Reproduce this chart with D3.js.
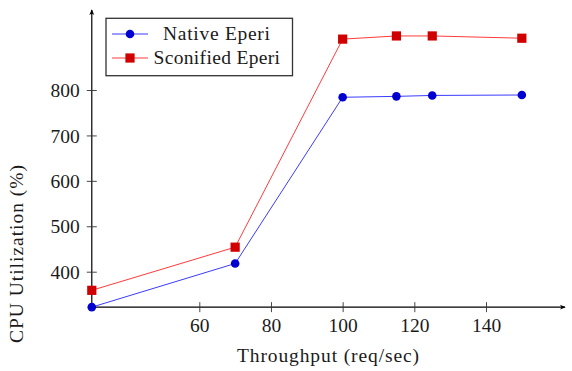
<!DOCTYPE html>
<html><head><meta charset="utf-8">
<script src="https://cdn.jsdelivr.net/npm/d3@7"></script>
<style>
html,body{margin:0;padding:0;background:#fff;}
svg text{font-family:"Liberation Serif","Times New Roman",serif;fill:#1a1a1a;}
</style></head>
<body><svg id="c" width="572" height="371"></svg>
<script>
const throughput = [30, 70, 100, 115, 125, 150];
const nativeEperi = [322, 418, 784, 786, 788, 789];
const sconifiedEperi = [359, 454, 912, 919, 919, 914];
const xTicks = [60, 80, 100, 120, 140];
const yTicks = [400, 500, 600, 700, 800];
const seriesNames = ["Native Eperi", "Sconified Eperi"];

const svg = d3.select("#c");
const x = d3.scaleLinear().domain([60, 140]).range([199.3, 486]);
const y = d3.scaleLinear().domain([400, 800]).range([271.7, 90]);
const x0 = x(30), y0 = y(322);
const fs = 19.5;

// arrow marker
svg.append("defs").append("marker").attr("id","arr").attr("viewBox","0 0 10 10")
  .attr("refX",8).attr("refY",5).attr("markerWidth",7).attr("markerHeight",7)
  .attr("markerUnits","userSpaceOnUse").attr("orient","auto")
  .append("path").attr("d","M1,1.5 L9,5 L1,8.5 L3,5 Z").attr("fill","#000");

// axes lines
svg.append("line").attr("x1",x0).attr("x2",565).attr("y1",y0).attr("y2",y0)
  .attr("stroke","#000").attr("stroke-width",1.2).attr("marker-end","url(#arr)");
svg.append("line").attr("x1",x0).attr("x2",x0).attr("y1",y0).attr("y2",10)
  .attr("stroke","#000").attr("stroke-width",1.2).attr("marker-end","url(#arr)");

// x axis ticks
const xa = svg.append("g").attr("transform",`translate(0,${y0})`)
  .call(d3.axisBottom(x).tickValues(xTicks).tickSize(5).tickSizeOuter(0).tickPadding(0));
xa.select(".domain").remove();
xa.selectAll(".tick line").attr("y1",-5).attr("y2",5).attr("stroke","#333").attr("stroke-width",0.9);
xa.selectAll(".tick text").attr("font-size",fs).attr("y",24.5).attr("dy",null)
  .attr("font-family","Liberation Serif").attr("fill","#1a1a1a");

// y axis ticks
const ya = svg.append("g").attr("transform",`translate(${x0},0)`)
  .call(d3.axisLeft(y).tickValues(yTicks).tickSize(5).tickSizeOuter(0).tickPadding(0));
ya.select(".domain").remove();
ya.selectAll(".tick line").attr("x1",-5).attr("x2",5).attr("stroke","#333").attr("stroke-width",0.9);
ya.selectAll(".tick text").attr("font-size",fs).attr("x",-12).attr("dy","0.34em")
  .attr("font-family","Liberation Serif").attr("fill","#1a1a1a");

// axis labels
svg.append("text").attr("x",328).attr("y",362).attr("text-anchor","middle")
  .attr("font-size",fs).attr("textLength",182).text("Throughput (req/sec)");
svg.append("text").attr("transform","translate(23,254) rotate(-90)").attr("text-anchor","middle")
  .attr("font-size",fs).attr("textLength",178).text("CPU Utilization (%)");

// series
const series = [
  {name: seriesNames[0], vals: nativeEperi, line:"#3b3bff", fill:"#0000d0", shape:"circle", tx:163, tl:107},
  {name: seriesNames[1], vals: sconifiedEperi, line:"#ff3b3b", fill:"#d00000", shape:"square", tx:153.5, tl:126.5}
];
const lineGen = d3.line().x(d=>x(d[0])).y(d=>y(d[1]));
function drawMarker(g, cx, cy, s){
  if (s.shape==="circle") g.append("circle").attr("cx",cx).attr("cy",cy).attr("r",4.3).attr("fill",s.fill);
  else g.append("rect").attr("x",cx-4.6).attr("y",cy-4.6).attr("width",9.2).attr("height",9.2).attr("fill",s.fill);
}
series.forEach(s=>{
  const pts = throughput.map((t,i)=>[t, s.vals[i]]);
  svg.append("path").attr("d",lineGen(pts)).attr("fill","none").attr("stroke",s.line).attr("stroke-width",1);
  const g = svg.append("g");
  pts.forEach(p=>drawMarker(g, x(p[0]), y(p[1]), s));
});

// legend
const lg = svg.append("g");
lg.append("rect").attr("x",106).attr("y",18.3).attr("width",186.5).attr("height",57.4)
  .attr("fill","#fff").attr("stroke","#333").attr("stroke-width",1.3);
series.forEach((s,i)=>{
  const ly = 34 + i*24;
  lg.append("line").attr("x1",112).attr("x2",148).attr("y1",ly).attr("y2",ly).attr("stroke",s.line).attr("stroke-width",1);
  drawMarker(lg, 130, ly, s);
  lg.append("text").attr("x",s.tx).attr("y",ly).attr("dy","0.33em")
    .attr("font-size",fs).attr("textLength",s.tl).text(s.name);
});
</script></body></html>
